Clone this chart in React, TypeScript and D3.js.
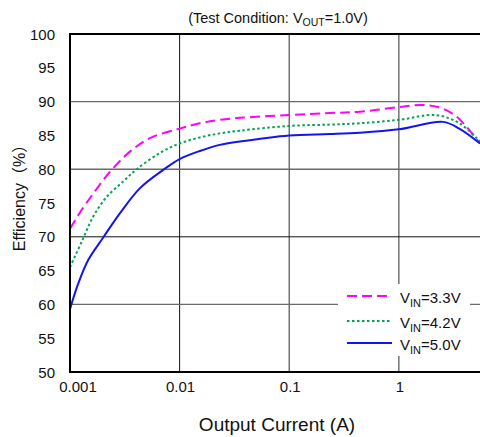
import { scaleLog, scaleLinear, line, curveCatmullRom } from "d3";

// output current (A) and efficiency (%)
const current33 = [0.001, 0.00128, 0.00163, 0.00201, 0.00231, 0.00352, 0.00536, 0.01, 0.0153, 0.0233, 0.0355, 0.1, 0.234, 0.44, 1.0, 1.55, 2.27, 3.35, 5.5];
const eff33 = [71.2, 74.0, 76.4, 78.4, 79.6, 82.6, 84.6, 86.0, 86.8, 87.3, 87.6, 88.0, 88.3, 88.5, 89.2, 89.5, 89.2, 87.8, 83.8];

const current42 = [0.001, 0.00128, 0.00163, 0.00216, 0.00306, 0.00406, 0.00661, 0.01, 0.0153, 0.0233, 0.0355, 0.1, 0.234, 0.44, 1.0, 2.18, 3.56, 5.5];
const eff42 = [65.5, 69.3, 73.0, 75.9, 78.2, 80.0, 82.4, 83.8, 84.7, 85.3, 85.7, 86.4, 86.6, 86.8, 87.3, 88.0, 86.8, 84.1];

const current50 = [0.001, 0.00119, 0.00147, 0.00201, 0.00286, 0.00435, 0.00708, 0.01, 0.0153, 0.0233, 0.0355, 0.1, 0.234, 0.44, 1.0, 2.53, 3.56, 5.5];
const eff50 = [59.3, 63.1, 66.6, 69.9, 73.5, 77.2, 79.9, 81.5, 82.7, 83.6, 84.1, 85.0, 85.2, 85.4, 85.9, 87.0, 86.0, 83.8];

const xTicks = [0.001, 0.01, 0.1, 1];
const xTickLabels = ["0.001", "0.01", "0.1", "1"];
const yTicks = [50, 55, 60, 65, 70, 75, 80, 85, 90, 95, 100];
const yGrid = [60, 70, 80, 90];

const seriesNames = ["3.3V", "4.2V", "5.0V"];
const seriesColors = ["#ff00ff", "#00a550", "#1414f0"];
const seriesDash = ["10,5", "2.5,2.5", "none"];

const width = 480;
const height = 437;
const margin = { top: 34, right: 0, bottom: 65, left: 70 };

export default function App() {
  const x = scaleLog().domain([0.001, 5.5]).range([margin.left, width - margin.right]);
  const y = scaleLinear().domain([50, 100]).range([height - margin.bottom, margin.top]);

  const lineGen = line<[number, number]>()
    .x((d) => x(d[0]))
    .y((d) => y(d[1]))
    .curve(curveCatmullRom.alpha(0.5));

  const series = [
    current33.map((c, i) => [c, eff33[i]] as [number, number]),
    current42.map((c, i) => [c, eff42[i]] as [number, number]),
    current50.map((c, i) => [c, eff50[i]] as [number, number]),
  ];

  const font = "'Liberation Sans', Arial, 'Noto Sans CJK SC', sans-serif";
  const x0 = margin.left;
  const x1 = width - margin.right;
  const yTop = margin.top;
  const yBot = height - margin.bottom;

  return (
    <svg width={width} height={height} style={{ position: "absolute", left: 0, top: 0, background: "#fff" }} fontFamily={font}>
      {/* grid */}
      {xTicks.slice(1).map((t) => (
        <line key={"gx" + t} x1={x(t)} x2={x(t)} y1={yTop} y2={yBot}
          stroke={t === 0.01 ? "#111" : "#6a6a6a"} strokeWidth={t === 0.01 ? 1 : 1.4} />
      ))}
      {yGrid.map((t) => (
        <line key={"gy" + t} x1={x0} x2={x1} y1={y(t)} y2={y(t)}
          stroke={t === 70 ? "#111" : "#6a6a6a"} strokeWidth={t === 70 ? 1 : 1.4} />
      ))}

      {/* curves */}
      <g>
        {series.map((s, i) => (
          <path key={i} d={lineGen(s) || ""} fill="none" stroke={seriesColors[i]}
            strokeWidth={2} strokeDasharray={seriesDash[i]} />
        ))}
      </g>

      {/* frame */}
      <line x1={x0} x2={x1} y1={yTop} y2={yTop} stroke="#000" strokeWidth={2} />
      <line x1={x0} x2={x1} y1={yBot} y2={yBot} stroke="#000" strokeWidth={2} />
      <line x1={x0} x2={x0} y1={yTop - 1} y2={yBot + 1} stroke="#000" strokeWidth={2} />

      {/* y tick labels */}
      {yTicks.map((t) => (
        <text key={"yt" + t} x={55} y={y(t) + 5.5} textAnchor="end" fontSize={15} fill="#111">{t}</text>
      ))}
      {/* x tick labels */}
      {xTicks.map((t, i) => (
        <text key={"xt" + t} x={x(t) + (i === 0 ? 8 : 1)} y={392} textAnchor="middle" fontSize={15} fill="#111">
          {xTickLabels[i]}
        </text>
      ))}

      {/* legend */}
      <rect x={338} y={284} width={132} height={72} fill="#fff" />
      {seriesNames.map((n, i) => {
        const ly = [296, 321, 343][i];
        return (
          <g key={n}>
            <line x1={347} x2={392} y1={ly} y2={ly} stroke={seriesColors[i]} strokeWidth={2} strokeDasharray={seriesDash[i]} />
            <text x={400} y={ly + 7} fontSize={15} fill="#111">
              V<tspan fontSize={11} dy={4}>IN</tspan><tspan dy={-4}>={n}</tspan>
            </text>
          </g>
        );
      })}

      {/* title */}
      <text x={278} y={23} textAnchor="middle" fontSize={14.5} fill="#111">
        (Test Condition: V<tspan fontSize={10.5} dy={3}>OUT</tspan><tspan dy={-3}>=1.0V)</tspan>
      </text>

      {/* axis titles */}
      <text x={277} y={431} textAnchor="middle" fontSize={19} fill="#111">Output Current (A)</text>
      <text transform="translate(25,194) rotate(-90)" textAnchor="middle" fontSize={16} fill="#111">Efficiency（%）</text>
    </svg>
  );
}
